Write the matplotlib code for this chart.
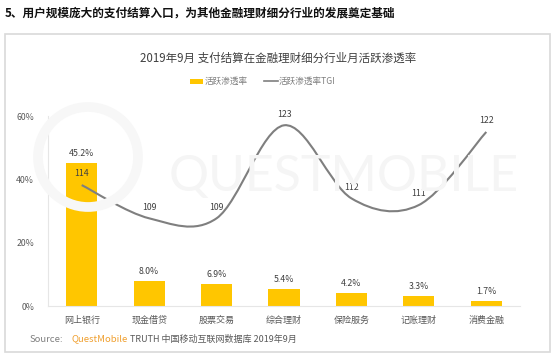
import numpy as np
import matplotlib
matplotlib.use("Agg")
import matplotlib.pyplot as plt
from matplotlib.path import Path
from matplotlib.patches import PathPatch, Rectangle, Circle

plt.rcParams["font.family"] = ["Noto Sans CJK SC", "DejaVu Sans"]

HEADER = "5、用户规模庞大的支付结算入口，为其他金融理财细分行业的发展奠定基础"
TITLE = "2019年9月 支付结算在金融理财细分行业月活跃渗透率"
categories = ["网上银行", "现金借贷", "股票交易", "综合理财", "保险服务", "记账理财", "消费金融"]
penetration = [45.2, 8.0, 6.9, 5.4, 4.2, 3.3, 1.7]          # %
tgi = [114, 109, 109, 123, 112, 111, 122]
yticks = [0, 20, 40, 60]

YELLOW = "#FFC600"
LINE_GRAY = "#7F7F7F"
TEXT = "#404040"
TICK = "#595959"

W, H = 554, 357
fig = plt.figure(figsize=(W / 100, H / 100), dpi=100)
fig.patch.set_facecolor("white")


def px(x, y):
    return x / W, 1 - y / H


# page header and chart frame
fig.text(*px(5, 13), HEADER, fontsize=8.4, fontweight="bold", color="#111111", va="center", ha="left")
fig.patches.append(Rectangle(px(5, 352), 545 / W, 318 / H, transform=fig.transFigure,
                             fill=False, edgecolor="#D9D9D9", linewidth=1.2))

# faint watermark (logo ring + wordmark)
fig.patches.append(Circle((88 / 100, (H - 157) / 100), 0.50, transform=fig.dpi_scale_trans,
                          fill=False, edgecolor="#F7F7F7", linewidth=7, zorder=0))
fig.text(*px(344, 177), "QUESTMOBILE", fontsize=36, color="#F5F5F5", ha="center", va="center",
         family=["Lato", "DejaVu Sans"], zorder=0)

fig.text(*px(278, 58), TITLE, fontsize=8.3, color=TEXT, ha="center", va="center")

# legend
fig.patches.append(Rectangle(px(190, 83.5), 13 / W, 5 / H, transform=fig.transFigure,
                             facecolor=YELLOW, edgecolor="none"))
fig.text(*px(205, 81), "活跃渗透率", fontsize=6.2, color="#7F7F7F", va="center")
fig.lines.append(plt.Line2D([264 / W, 278 / W], [1 - 81 / H] * 2, transform=fig.transFigure,
                            color=LINE_GRAY, linewidth=1.2))
fig.text(*px(279, 81), "活跃渗透率TGI", fontsize=6.2, color="#7F7F7F", va="center")

left, bottom = px(48, 306)
ax = fig.add_axes([left, bottom, 472 / W, 190 / H])
ax.patch.set_alpha(0)
x = np.arange(len(categories))
ax.bar(x, penetration, width=0.46, color=YELLOW, zorder=2)
for xi, v in zip(x, penetration):
    ax.text(xi, v + 1.5, f"{v:.1f}%", ha="center", va="bottom", fontsize=6.3, color=TEXT, zorder=5)

ax.set_xlim(-0.5, len(categories) - 0.5)
ax.set_ylim(0, 60)
ax.set_yticks(yticks)
ax.set_yticklabels([f"{t}%" for t in yticks], fontsize=6.3, color=TICK)
ax.set_xticks(x)
ax.set_xticklabels(categories, fontsize=6.5, color=TICK)
ax.tick_params(length=0, pad=7)
ax.tick_params(axis="y", pad=10)
for s in ["top", "right"]:
    ax.spines[s].set_visible(False)
for s in ["left", "bottom"]:
    ax.spines[s].set_color("#E6E6E6")
    ax.spines[s].set_linewidth(0.8)

# TGI line on a hidden secondary axis, drawn as a smooth bezier through the points
ax2 = ax.twinx()
ax2.set_ylim(95.8, 124.4)
ax2.axis("off")
pts = np.column_stack([x, tgi]).astype(float)
verts = [tuple(pts[0])]
codes = [Path.MOVETO]
for i in range(len(pts) - 1):
    p0 = pts[max(i - 1, 0)]
    p1 = pts[i]
    p2 = pts[i + 1]
    p3 = pts[min(i + 2, len(pts) - 1)]
    c1 = p1 + (p2 - p0) / 6
    c2 = p2 - (p3 - p1) / 6
    verts += [tuple(c1), tuple(c2), tuple(p2)]
    codes += [Path.CURVE4] * 3
ax2.add_patch(PathPatch(Path(verts, codes), fill=False, edgecolor=LINE_GRAY, linewidth=1.5, zorder=3))
for xi, v in zip(x, tgi):
    ax2.text(xi, v + 1.0, f"{v}", ha="center", va="bottom", fontsize=6.3, color=TEXT, zorder=5)

# source line, pieces placed one after another
renderer = fig.canvas.get_renderer()
xpos = 30
for s, size, col, gap in [("Source:", 6.8, "#7F7F7F", 8),
                          ("QuestMobile", 6.9, "#F0A030", 2),
                          ("TRUTH 中国移动互联网数据库 2019年9月", 6.5, "#595959", 0)]:
    t = fig.text(*px(xpos, 339), s, fontsize=size, color=col, va="center")
    xpos += t.get_window_extent(renderer).width + gap

fig.savefig("out.png", dpi=100, facecolor="white")
